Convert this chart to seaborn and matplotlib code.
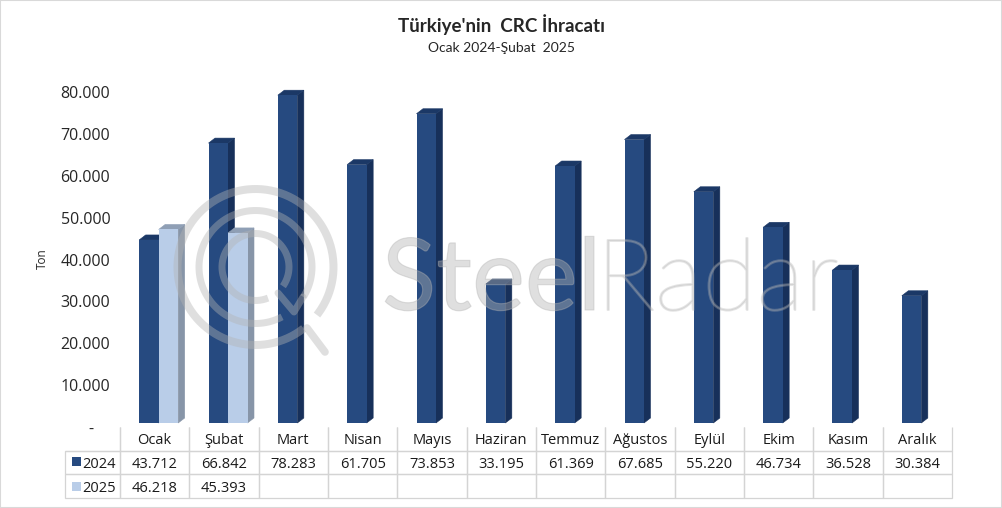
import numpy as np
import pandas as pd
import seaborn as sns
import matplotlib.pyplot as plt
import matplotlib.patheffects as pe
from matplotlib.patches import Polygon, Rectangle
from matplotlib.transforms import Affine2D

months = ["Ocak", "Şubat", "Mart", "Nisan", "Mayıs", "Haziran", "Temmuz",
          "Ağustos", "Eylül", "Ekim", "Kasım", "Aralık"]
values_2024 = [43712, 66842, 78283, 61705, 73853, 33195, 61369, 67685, 55220, 46734, 36528, 30384]
values_2025 = [46218, 45393, None, None, None, None, None, None, None, None, None, None]
y_ticks = [0, 10000, 20000, 30000, 40000, 50000, 60000, 70000, 80000]

W, H = 1002, 508
FONT = ["Lato", "DejaVu Sans"]
TABLE_FONT = ["Open Sans", "DejaVu Sans"]

# front, side, top colours of each series
colors = {"2024": ("#264a80", "#17305a", "#1b3866"),
          "2025": ("#b9cde8", "#8795a8", "#8f9fb5")}


def fmt(v):
    return "" if v is None else f"{v:,}".replace(",", ".")


def box(left, top, right, bottom):
    # pixel box of the reference to figure fractions
    return [left / W, 1 - bottom / H, (right - left) / W, (bottom - top) / H]


sns.set_style("white")
plt.rcParams["font.family"] = FONT

df = pd.DataFrame({
    "month": months * 2,
    "year": ["2024"] * 12 + ["2025"] * 12,
    "ton": [np.nan if v is None else v for v in values_2024 + values_2025],
})

fig = plt.figure(figsize=(W / 100, H / 100), dpi=100)
ax = fig.add_axes(box(120, 92, 952, 427))
sns.barplot(data=df, x="month", y="ton", hue="year", order=months,
            palette={k: v[0] for k, v in colors.items()}, width=0.5625, gap=0,
            saturation=1, legend=False, ax=ax)
ax.set_xlim(-0.5, 11.5)
ax.set_ylim(0, 80000)
sns.despine(ax=ax, left=True, bottom=True)

# fake 3D: faces sit a little up and right of the axis plane, sides go further back
px_x = 12 / 832
px_y = 80000 / 335
shift = Affine2D().translate(4, 4)
for n, (year, bars) in enumerate(zip(colors, ax.containers)):
    front, side, top = colors[year]
    for bar in bars:
        h = bar.get_height()
        if np.isnan(h) or h == 0:
            continue
        x0, x1 = bar.get_x(), bar.get_x() + bar.get_width()
        dx, dy = 6.5 * px_x, 5 * px_y
        bar.set_transform(ax.transData + shift)
        bar.set_zorder(3.5 + n)
        bar.set_linewidth(0)
        for pts, c in (([(x1, 0), (x1 + dx, dy), (x1 + dx, h + dy), (x1, h)], side),
                       ([(x0, h), (x0 + dx, h + dy), (x1 + dx, h + dy), (x1, h)], top)):
            ax.add_patch(Polygon(pts, closed=True, fc=c, ec=c, lw=0.4, zorder=3 + n,
                                 transform=ax.transData + shift, clip_on=False))

ax.set_yticks(y_ticks)
ax.set_yticklabels(["-    " if t == 0 else fmt(t) for t in y_ticks], fontsize=11.5,
                   family=TABLE_FONT)
ax.tick_params(axis="y", length=0, pad=7)
ax.set_xticks([])
ax.set_xlabel("")
ax.set_ylabel("")
fig.text(42 / W, 1 - 259 / H, "Ton", rotation=90, ha="center", va="center",
         fontsize=8.5, family=TABLE_FONT)

# titles
fig.text(501 / W, 1 - 25 / H, "Türkiye'nin  CRC İhracatı", ha="center", va="center",
         fontsize=13.5, fontweight="bold")
fig.text(501 / W, 1 - 47.5 / H, "Ocak 2024-Şubat  2025", ha="center", va="center", fontsize=10)

# data table under the plot
tab_ax = fig.add_axes(box(65, 427, 952, 498))
tab_ax.axis("off")
rows = [[""] + months,
        ["2024"] + [fmt(v) for v in values_2024],
        ["2025"] + [fmt(v) for v in values_2025]]
label_w = 55 / 887
cell_w = 832 / 887 / 12
table = tab_ax.table(cellText=rows, colWidths=[label_w] + [cell_w] * 12, cellLoc="center",
                     bbox=[0, 0, 1, 1])
table.auto_set_font_size(False)
for (r, c), cell in table.get_celld().items():
    cell.set_edgecolor("#d4d4d4")
    cell.set_linewidth(0.9)
    cell.set_facecolor("none")
    cell.get_text().set_fontsize(10.5)
    cell.get_text().set_fontfamily(TABLE_FONT)
    cell.get_text().set_color("#1a1a1a")
    cell.get_text().set_verticalalignment("center_baseline")
    if r == 0:
        cell.visible_edges = "BR" if c == 0 else "LRB"
    if c == 0 and r > 0:
        cell.set_text_props(ha="right")
        cell.PAD = 0.07
for i, year in enumerate(colors):
    tab_ax.add_patch(Rectangle((7 / 887, (32 - 25 * i) / 71), 9 / 887, 9 / 71,
                               transform=tab_ax.transAxes, fc=colors[year][0], ec="none",
                               clip_on=False))

# watermark over everything
wm = fig.add_axes([0, 0, 1, 1], facecolor="none")
wm.set_xlim(0, W)
wm.set_ylim(H, 0)
wm.axis("off")
grey = (0.70, 0.70, 0.70, 0.41)
thin_grey = (0.70, 0.70, 0.70, 0.34)
cx, cy = 255.5, 267
for r, lw_px, gap_from, gap_to in ((78, 8, 38, 52), (56.5, 7, 32, 62), (33.5, 7, 35, 68)):
    t = np.radians(np.linspace(gap_to, gap_from + 360, 200))
    wm.plot(cx + r * np.cos(t), cy + r * np.sin(t), color=grey, lw=lw_px * 0.72,
            solid_capstyle="butt")
wm.plot([278, 294, 303], [293, 312, 297], color=grey, lw=5, solid_capstyle="round",
        solid_joinstyle="round")
wm.plot([307, 325], [328, 352], color=grey, lw=5.5, solid_capstyle="round")
steel = wm.text(382, 310, "Steel", fontsize=72, color=grey, va="baseline", ha="left", family=FONT)
steel.set_path_effects([pe.Stroke(linewidth=0.8, foreground=grey)])
radar = wm.text(596, 310, "Radar", fontsize=72, color=thin_grey, va="baseline", ha="left",
                family=FONT, fontweight="light")
radar.set_path_effects([pe.Stroke(linewidth=1.4, foreground=thin_grey)])

# thin picture border
fig.add_artist(Rectangle((0, 0), 1, 1, transform=fig.transFigure, fill=False,
                         ec="#d9d9d9", lw=1.5))

fig.savefig("out.png", dpi=100)
